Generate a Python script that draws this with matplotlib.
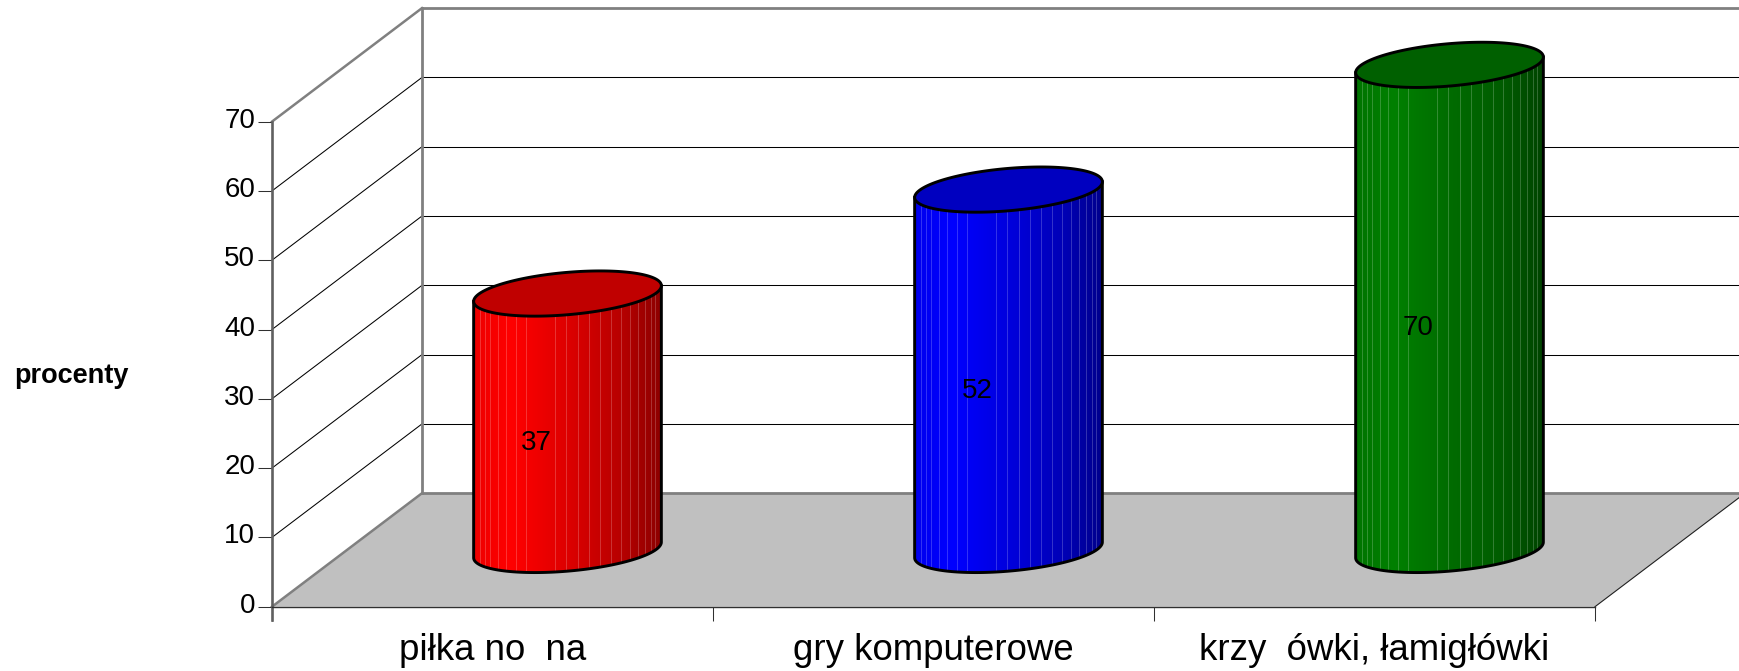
import numpy as np
import matplotlib
matplotlib.use('Agg')
import matplotlib.pyplot as plt
from matplotlib.colors import LinearSegmentedColormap
from matplotlib.patches import Polygon
from matplotlib.transforms import ScaledTranslation

categories = ['piłka no  na', 'gry komputerowe', 'krzy  ówki, łamigłówki']
values = [37, 52, 70]
yticks = [0, 10, 20, 30, 40, 50, 60, 70]
top_colors = ['#c00000', '#0000c0', '#006000']
side_colors = [
    ['#ee0000', '#ff0000', '#dd0000', '#b80000', '#8c0000'],
    ['#0000ee', '#0000ff', '#0000dd', '#0000b8', '#00008c'],
    ['#007400', '#008000', '#006c00', '#005c00', '#004400'],
]
# seams between the cylinder facets, -1 left edge .. 1 right edge
seams = [-.936, -.883, -.822, -.744, -.658, -.552, -.445, -.132, -.018, .11,
         .228, .342, .463, .566, .665, .75, .83, .886, .936]

plt.rcParams['font.family'] = ['Liberation Sans', 'DejaVu Sans']

# one category = 441 px, one percent = 6.93 px
W, H = 1740, 671
x_px, y_px = 441.0, 6.93
x0, y0 = 272.0, 606.7
depth_x, depth_y = 150 / x_px, 113.5 / y_px   # oblique shift of the back wall
ymax = 70
xmax = len(categories)

fig = plt.figure(figsize=(W / 100, H / 100), dpi=100)
ax = fig.add_axes([0, 0, 1, 1])
xlim = (-x0 / x_px, (W - x0) / x_px)
ylim = ((y0 - H) / y_px, y0 / y_px)

wall = '#808080'
# floor
ax.add_patch(Polygon([(0, 0), (xmax, 0), (xmax + depth_x, depth_y), (depth_x, depth_y)],
                     closed=True, fc='#c0c0c0', ec='none', zorder=1))
ax.plot([xmax, xmax + depth_x], [0, depth_y], color='#202020', lw=0.8, zorder=1.5)
ax.plot([0, depth_x], [0, depth_y], color=wall, lw=1.8, zorder=1.5)
ax.plot([depth_x, xmax + depth_x], [depth_y, depth_y], color=wall, lw=2.0, zorder=1.5)

# grid on side and back walls
for v in yticks[1:-1]:
    ax.plot([0, depth_x], [v, v + depth_y], color='black', lw=0.75, zorder=1.2)
    ax.plot([depth_x, xmax + depth_x], [v + depth_y, v + depth_y], color='black', lw=0.75, zorder=1.2)
# top edge and back corner
ax.plot([0, depth_x], [ymax, ymax + depth_y], color=wall, lw=1.8, zorder=1.5)
ax.plot([depth_x, xmax + depth_x], [ymax + depth_y, ymax + depth_y], color=wall, lw=2.0, zorder=1.5)
ax.plot([depth_x, depth_x], [depth_y, ymax + depth_y], color=wall, lw=2.0, zorder=1.5)

# cylinders
half_w = 93.85 / x_px
ell_b = 21.2 / y_px
ell_s = 7.85 / y_px
t = np.linspace(0, 2 * np.pi, 200)
front = np.linspace(np.pi, 2 * np.pi, 100)
for i, val in enumerate(values):
    cx = i + 0.5 + depth_x / 2
    base = depth_y / 2
    top = base + val
    # front curve of the base, then up the right side and back over the top
    bx = cx + half_w * np.cos(front)
    by = base + ell_b * np.sin(front) + ell_s * np.cos(front)
    tx = cx + half_w * np.cos(front[::-1])
    ty = top + ell_b * np.sin(front[::-1]) + ell_s * np.cos(front[::-1])
    body = Polygon(np.column_stack([np.r_[bx, tx], np.r_[by, ty]]), closed=True,
                   transform=ax.transData, fc='none', ec='none')
    ax.add_patch(body)
    cmap = LinearSegmentedColormap.from_list('side', list(zip([0, .2, .5, .78, 1], side_colors[i])))
    im = ax.imshow(np.linspace(0, 1, 256)[None, :], cmap=cmap, aspect='auto', zorder=3,
                   extent=(cx - half_w, cx + half_w, by.min(), ty.max()))
    im.set_clip_path(body)
    for s in seams:
        ang = np.arccos(s)
        sx = cx + half_w * s
        offs = -ell_b * np.sin(ang) + ell_s * s
        ax.plot([sx, sx], [base + offs, top + offs], color='white', alpha=0.2, lw=0.75, zorder=3.1)
    ax.plot(np.r_[tx[-1], bx, tx[0]], np.r_[ty[-1], by, ty[0]], color='black', lw=2.1, zorder=3.2)
    ex = cx + half_w * np.cos(t)
    ey = top + ell_b * np.sin(t) + ell_s * np.cos(t)
    ax.fill(ex, ey, fc=top_colors[i], ec='black', lw=2.1, zorder=3.3)
    ax.text(cx - 31 / x_px, base + val / 2 - 21 / y_px, str(val), fontsize=20,
            ha='center', va='center', color='black', zorder=4)

ax.set_xlim(xlim)
ax.set_ylim(ylim)
ax.patch.set_alpha(0)

# axes
for side in ['top', 'right']:
    ax.spines[side].set_visible(False)
ax.spines['left'].set_position(('data', 0))
ax.spines['left'].set_bounds(-13.5 / y_px, ymax)
ax.spines['left'].set_color('#606060')
ax.spines['left'].set_linewidth(1.9)
ax.spines['bottom'].set_position(('data', 0))
ax.spines['bottom'].set_bounds(0, xmax)
ax.spines['bottom'].set_color('#303030')
ax.spines['bottom'].set_linewidth(1.0)

ax.set_yticks(yticks)
ax.tick_params(axis='y', length=10, width=0.75, color='#303030', labelsize=20, pad=2)
ax.set_xticks(range(xmax + 1))
ax.set_xticklabels([])
ax.tick_params(axis='x', which='major', length=10, width=0.75, color='#303030')
ax.set_xticks(np.arange(xmax) + 0.5, minor=True)
ax.set_xticklabels(categories, minor=True, fontsize=26.4)
ax.tick_params(axis='x', which='minor', length=0, pad=19)

shift = ScaledTranslation(0, 4 / 100, fig.dpi_scale_trans)
for lab in ax.get_yticklabels():
    lab.set_transform(lab.get_transform() + shift)

fig.text(14 / W, 1 - 376 / H, 'procenty', fontsize=19.5, fontweight='bold', ha='left', va='center')

fig.savefig('out.png', dpi=100)
